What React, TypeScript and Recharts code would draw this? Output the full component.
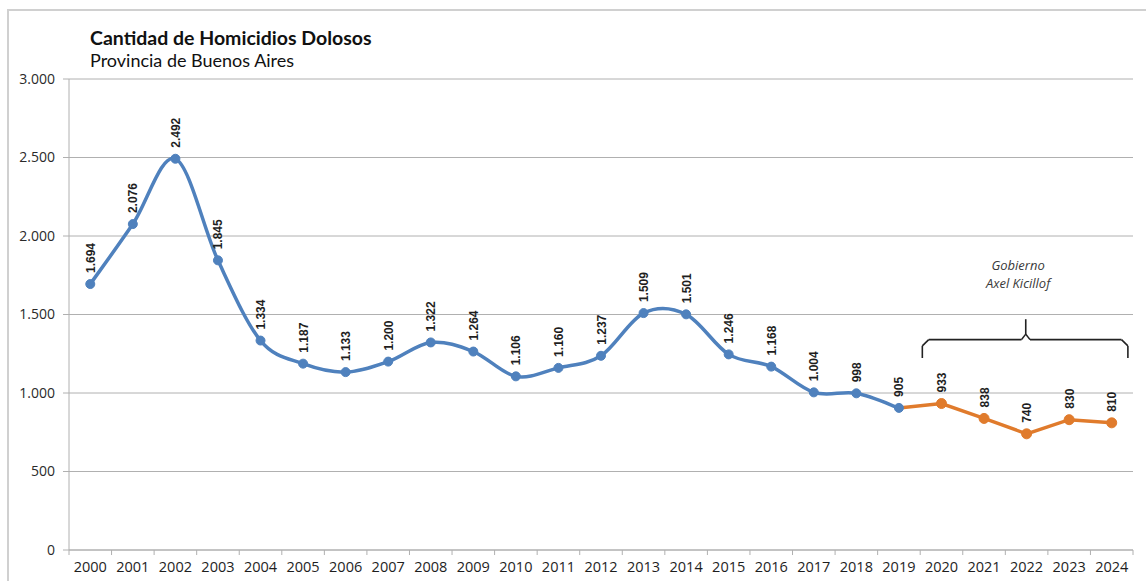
import {
  LineChart,
  Line,
  XAxis,
  YAxis,
  CartesianGrid,
  ReferenceLine,
  ReferenceDot,
  LabelList,
} from "recharts";

const YEARS = [
  "2000", "2001", "2002", "2003", "2004", "2005", "2006", "2007", "2008",
  "2009", "2010", "2011", "2012", "2013", "2014", "2015", "2016", "2017",
  "2018", "2019", "2020", "2021", "2022", "2023", "2024",
];

// 2000 - 2019
const BEFORE = [
  1694, 2076, 2492, 1845, 1334, 1187, 1133, 1200, 1322, 1264, 1106, 1160,
  1237, 1509, 1501, 1246, 1168, 1004, 998, 905,
];

// 2019 - 2024 (2019 repeated so both lines join)
const KICILLOF = [905, 933, 838, 740, 830, 810];

const Y_TICKS = [0, 500, 1000, 1500, 2000, 2500, 3000];

const BLUE = "#4f81bd";
const ORANGE = "#e07b2c";
const GRID = "#b0b0b0";

const rows = YEARS.map((year, i) => ({
  x: i + 0.5,
  year,
  before: i < BEFORE.length ? BEFORE[i] : undefined,
  after: i >= 19 ? KICILLOF[i - 19] : undefined,
}));

function fmt(v: number): string {
  return String(v).replace(/\B(?=(\d{3})+(?!\d))/g, ".");
}

// Excel-like smoothed line: Catmull-Rom through every point.
function excelSmooth(context: any) {
  let pts: [number, number][] = [];
  return {
    areaStart() {},
    areaEnd() {},
    lineStart() {
      pts = [];
    },
    point(x: number, y: number) {
      pts.push([+x, +y]);
    },
    lineEnd() {
      if (!pts.length) return;
      context.moveTo(pts[0][0], pts[0][1]);
      for (let i = 0; i < pts.length - 1; i++) {
        const p0 = pts[i - 1] ?? pts[i];
        const p1 = pts[i];
        const p2 = pts[i + 1];
        const p3 = pts[i + 2] ?? p2;
        context.bezierCurveTo(
          p1[0] + (p2[0] - p0[0]) / 6,
          p1[1] + (p2[1] - p0[1]) / 6,
          p2[0] - (p3[0] - p1[0]) / 6,
          p2[1] - (p3[1] - p1[1]) / 6,
          p2[0],
          p2[1],
        );
      }
    },
  };
}

function makeLabel(skipIndex: number) {
  return (props: any) => {
    const { value, index } = props;
    if (value == null || index === skipIndex) return null;
    const x = props.x ?? props.viewBox?.x;
    const y = props.y ?? props.viewBox?.y;
    if (x == null || y == null) return null;
    return (
      <text
        transform={`translate(${x + 0.5},${y - 11}) rotate(-90)`}
        textAnchor="start"
        dominantBaseline="central"
        fontFamily="'Liberation Sans', Arial, sans-serif"
        fontWeight="bold"
        fontSize={12}
        fill="#1e1e1e"
      >
        {fmt(value)}
      </text>
    );
  };
}

const FONT = "'Open Sans', 'Noto Sans', sans-serif";

export default function App() {
  const tickBounds = Array.from({ length: YEARS.length + 1 }, (_, i) => i);
  const bracketStroke = { stroke: "#222", strokeWidth: 1.6 };
  const noteLabel = {
    position: "center" as const,
    fill: "#3a3a3a",
    fontSize: 13,
    fontStyle: "italic",
    fontFamily: FONT,
  };
  return (
    <div
      style={{
        position: "absolute",
        left: 0,
        top: 0,
        width: 1146,
        height: 581,
        background: "#fff",
        overflow: "hidden",
      }}
    >
      <div
        style={{
          position: "absolute",
          left: 7,
          top: 9,
          width: 1160,
          height: 600,
          borderLeft: "2px solid #d0d0d0",
          borderTop: "2px solid #d0d0d0",
        }}
      />
      <div
        style={{
          position: "absolute",
          left: 90,
          top: 27,
          fontFamily: "Lato, sans-serif",
          color: "#111",
          lineHeight: "22px",
        }}
      >
        <div style={{ fontWeight: "bold", fontSize: 19.5 }}>Cantidad de Homicidios Dolosos</div>
        <div style={{ fontSize: 18 }}>Provincia de Buenos Aires</div>
      </div>
      <LineChart
        width={1146}
        height={581}
        data={rows}
        margin={{ top: 79, right: 13, left: 9, bottom: 0 }}
        style={{ position: "absolute", left: 0, top: 0 }}
      >
        <CartesianGrid horizontal vertical={false} stroke={GRID} strokeWidth={1} />
        <XAxis
          dataKey="x"
          type="number"
          domain={[0, YEARS.length]}
          ticks={rows.map((r) => r.x)}
          tickFormatter={(v: number) => YEARS[Math.floor(v)]}
          interval={0}
          tickLine={false}
          axisLine={{ stroke: GRID }}
          tick={{ fill: "#1e1e1e", fontSize: 14.5, fontFamily: FONT }}
          tickMargin={6}
          height={31}
          allowDataOverflow
        />
        <YAxis
          domain={[0, 3000]}
          ticks={Y_TICKS}
          tickFormatter={fmt}
          width={60}
          axisLine={{ stroke: GRID }}
          tickLine={{ stroke: GRID }}
          tickSize={6}
          tickMargin={8}
          tick={{ fill: "#2a2a2a", fontSize: 14, fontFamily: FONT }}
          allowDataOverflow
        />
        {tickBounds.map((b) => (
          <ReferenceLine
            key={`tb${b}`}
            segment={[
              { x: b, y: 0 },
              { x: b, y: -32 },
            ]}
            stroke={GRID}
            ifOverflow="visible"
          />
        ))}
        {/* bracket over the Kicillof years */}
        <ReferenceLine
          segment={[{ x: 20.05, y: 1223 }, { x: 20.05, y: 1300 }]}
          {...bracketStroke}
          ifOverflow="visible"
        />
        <ReferenceLine
          segment={[{ x: 20.05, y: 1300 }, { x: 20.2, y: 1340 }]}
          {...bracketStroke}
          ifOverflow="visible"
        />
        <ReferenceLine
          segment={[{ x: 20.2, y: 1340 }, { x: 22.38, y: 1340 }]}
          {...bracketStroke}
          ifOverflow="visible"
        />
        <ReferenceLine
          segment={[{ x: 22.38, y: 1340 }, { x: 22.48, y: 1375 }]}
          {...bracketStroke}
          ifOverflow="visible"
        />
        <ReferenceLine
          segment={[{ x: 22.48, y: 1375 }, { x: 22.48, y: 1470 }]}
          {...bracketStroke}
          ifOverflow="visible"
        />
        <ReferenceLine
          segment={[{ x: 22.48, y: 1375 }, { x: 22.58, y: 1340 }]}
          {...bracketStroke}
          ifOverflow="visible"
        />
        <ReferenceLine
          segment={[{ x: 22.58, y: 1340 }, { x: 24.73, y: 1340 }]}
          {...bracketStroke}
          ifOverflow="visible"
        />
        <ReferenceLine
          segment={[{ x: 24.73, y: 1340 }, { x: 24.88, y: 1300 }]}
          {...bracketStroke}
          ifOverflow="visible"
        />
        <ReferenceLine
          segment={[{ x: 24.88, y: 1300 }, { x: 24.88, y: 1223 }]}
          {...bracketStroke}
          ifOverflow="visible"
        />
        <ReferenceDot x={22.3} y={1815} r={0} ifOverflow="visible" label={{ value: "Gobierno", ...noteLabel }} />
        <ReferenceDot x={22.3} y={1700} r={0} ifOverflow="visible" label={{ value: "Axel Kicillof", ...noteLabel }} />
        <Line
          dataKey="before"
          type={excelSmooth as any}
          stroke={BLUE}
          strokeWidth={3.5}
          dot={{ r: 4.5, fill: BLUE, stroke: BLUE, strokeWidth: 1 }}
          isAnimationActive={false}
          connectNulls={false}
        >
          <LabelList dataKey="before" content={makeLabel(-1)} />
        </Line>
        <Line
          dataKey="after"
          type="linear"
          stroke={ORANGE}
          strokeWidth={3.5}
          dot={(p: any) =>
            p.index === 19 || p.value == null ? (
              <g key={`d${p.index}`} />
            ) : (
              <circle key={`d${p.index}`} cx={p.cx} cy={p.cy} r={5} fill={ORANGE} stroke={ORANGE} />
            )
          }
          isAnimationActive={false}
          connectNulls={false}
        >
          <LabelList dataKey="after" content={makeLabel(19)} />
        </Line>
      </LineChart>
    </div>
  );
}
